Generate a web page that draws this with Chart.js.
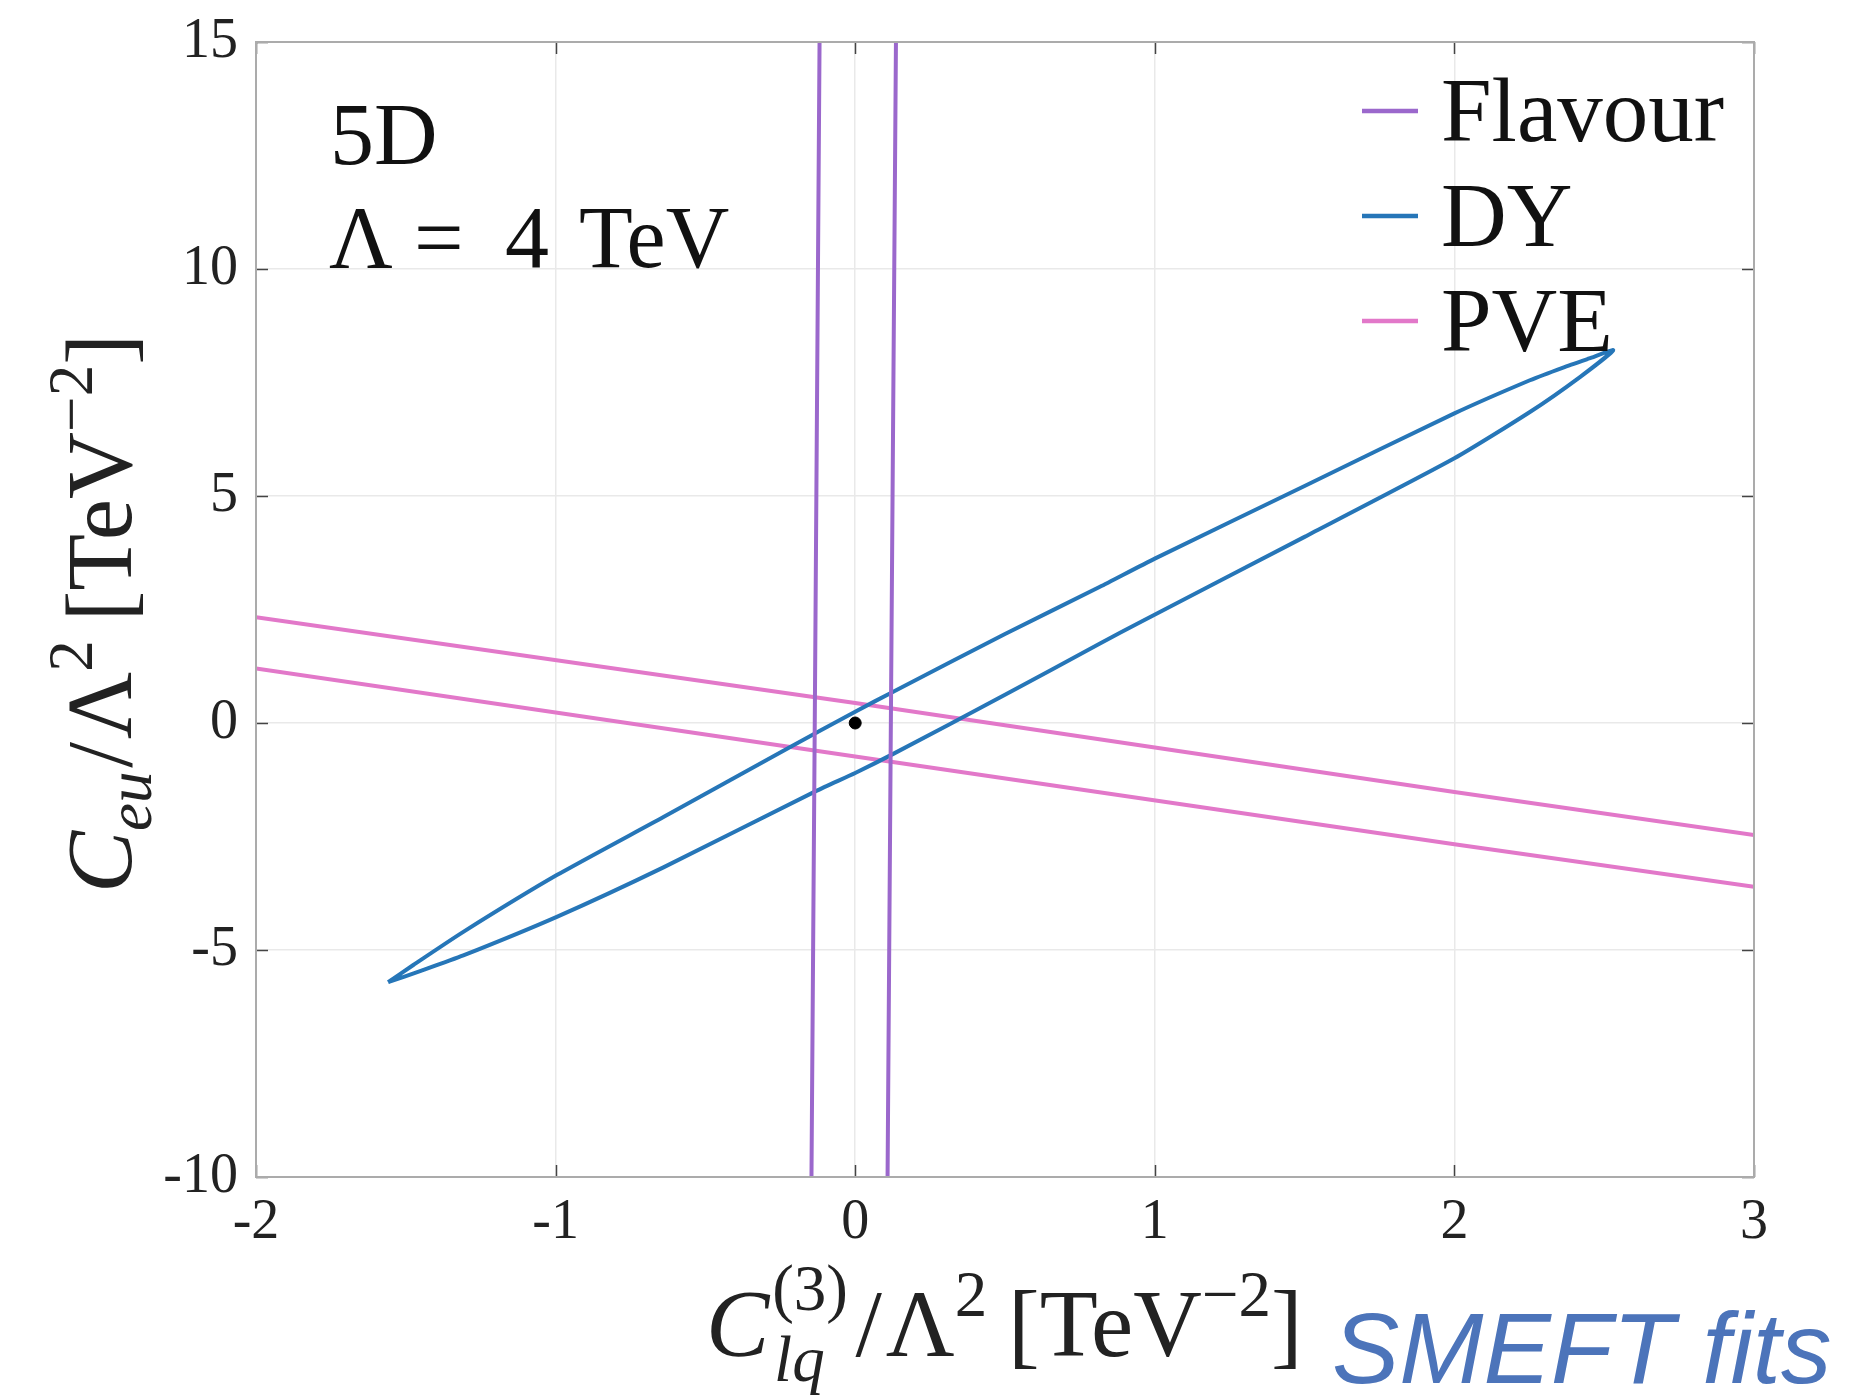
<!DOCTYPE html>
<html>
<head>
<meta charset="utf-8">
<script src="https://cdn.jsdelivr.net/npm/chart.js@4.4.1/dist/chart.umd.min.js"></script>
<style>
  html, body { margin: 0; padding: 0; background: #ffffff; }
  #wrap { position: relative; width: 1868px; height: 1398px; }
</style>
</head>
<body>
<div id="wrap"><canvas id="c"></canvas></div>
<script>
// ---------------- data ----------------
const xTicks = [-2, -1, 0, 1, 2, 3];
const xTickLabels = ['-2', '-1', '0', '1', '2', '3'];
const yTicks = [-10, -5, 0, 5, 10, 15];
const yTickLabels = ['-10', '-5', '0', '5', '10', '15'];

const seriesNames = ['Flavour', 'DY', 'PVE'];
const seriesColors = ['#9B68CC', '#2676B8', '#E278C9'];

// Flavour: two nearly vertical boundary lines
const flavourLeftX  = [-0.119, -0.135, -0.146];
const flavourLeftY  = [15, 0, -10];
const flavourRightX = [0.136, 0.119, 0.108];
const flavourRightY = [15, 0, -10];

// DY: closed elongated contour (upper branch, then lower branch back)
const dyX = [-1.559, -1.475, -1.308, -0.996, -0.640, -0.229, 0.0, 0.127, 0.5, 0.817, 1.0, 1.5, 2.0, 2.252, 2.363, 2.45, 2.530,
             2.419, 2.252, 2.0, 1.5, 0.951, 0.817, 0.5, 0.127, 0.0, -0.128, -0.640, -0.996, -1.308, -1.45, -1.559];
const dyY = [-5.71, -5.33, -4.60, -3.35, -2.07, -0.57, 0.25, 0.69, 1.96, 3.00, 3.62, 5.22, 6.82, 7.55, 7.83, 8.03, 8.21,
             7.62, 6.85, 5.83, 4.10, 2.22, 1.75, 0.62, -0.68, -1.10, -1.49, -3.18, -4.27, -5.12, -5.46, -5.71];

// PVE: two straight boundary lines
const pveUpperX = [-2, 0, 2, 3];
const pveUpperY = [2.33, 0.44, -1.52, -2.47];
const pveLowerX = [-2, 0, 2, 3];
const pveLowerY = [1.20, -0.74, -2.67, -3.61];

// best-fit point
const dotX = [0];
const dotY = [0];

// ---------------- helpers ----------------
const zip = (xs, ys) => xs.map((x, i) => ({ x: x, y: ys[i] }));
const SERIF = '"Liberation Serif", "DejaVu Serif", serif';

function lineSet(label, xs, ys, color, legend, tension) {
  return {
    label: label,
    data: zip(xs, ys),
    showLine: true,
    borderColor: color,
    backgroundColor: color,
    borderWidth: 4,
    pointRadius: 0,
    pointHoverRadius: 0,
    tension: tension || 0,
    fill: false,
    inLegend: legend
  };
}

const datasets = [
  lineSet(seriesNames[0], flavourLeftX, flavourLeftY, seriesColors[0], true),
  lineSet(seriesNames[0], flavourRightX, flavourRightY, seriesColors[0], false),
  lineSet(seriesNames[1], dyX, dyY, seriesColors[1], true, 0.2),
  lineSet(seriesNames[2], pveUpperX, pveUpperY, seriesColors[2], true),
  lineSet(seriesNames[2], pveLowerX, pveLowerY, seriesColors[2], false),
  {
    label: 'best fit',
    data: zip(dotX, dotY),
    showLine: false,
    pointRadius: 6,
    pointBackgroundColor: '#000000',
    pointBorderColor: '#000000',
    inLegend: false
  }
];

// rich text drawing (sub/superscripts)
function segFont(seg, F) {
  const size = Math.round(F * (seg.s || 1));
  return (seg.it ? 'italic ' : '') + size + 'px ' + SERIF;
}
function segWidth(ctx, seg, F) {
  if (seg.stack) return Math.max.apply(null, seg.stack.map(s => segWidth(ctx, s, F))) + (seg.gap || 0) * F;
  ctx.font = segFont(seg, F);
  return ctx.measureText(seg.t).width + (seg.gap || 0) * F;
}
function drawRich(ctx, segs, x, y, F) {
  let cx = x;
  segs.forEach(seg => {
    const parts = seg.stack ? seg.stack : [seg];
    parts.forEach(s => {
      ctx.font = segFont(s, F);
      ctx.fillText(s.t, cx + (s.dx || 0) * F, y + (s.dy || 0) * F);
    });
    cx += segWidth(ctx, seg, F);
  });
  return cx - x;
}

const yTitleSegs = [
  { t: 'C', it: true },
  { t: 'eu', it: true, s: 0.68, dy: 0.22, gap: 0.04 },
  { t: '/', gap: 0.03 },
  { t: 'Λ' },
  { t: '2', s: 0.68, dy: -0.42, gap: 0.2 },
  { t: '[' },
  { t: 'TeV' },
  { t: '−2', s: 0.68, dy: -0.42 },
  { t: ']' }
];
const xTitleSegs = [
  { t: 'C', it: true, gap: 0.03 },
  { stack: [ { t: '(3)', s: 0.68, dy: -0.48 }, { t: 'lq', it: true, s: 0.68, dy: 0.26, dx: 0.02 } ], gap: 0.08 },
  { t: '/', gap: 0.04 },
  { t: 'Λ' },
  { t: '2', s: 0.68, dy: -0.42, gap: 0.22 },
  { t: '[' },
  { t: 'TeV' },
  { t: '−2', s: 0.68, dy: -0.42 },
  { t: ']' }
];

const decorPlugin = {
  id: 'decor',
  afterDatasetsDraw(chart) {
    const ctx = chart.ctx;
    const a = chart.chartArea;
    const xs = chart.scales.x, ys = chart.scales.y;
    ctx.save();
    // inward tick marks
    ctx.strokeStyle = '#444444';
    ctx.lineWidth = 1.5;
    const L = 12;
    xTicks.forEach(v => {
      const px = Math.round(xs.getPixelForValue(v)) + 0.5;
      ctx.beginPath();
      ctx.moveTo(px, a.bottom); ctx.lineTo(px, a.bottom - L);
      ctx.moveTo(px, a.top); ctx.lineTo(px, a.top + L);
      ctx.stroke();
    });
    yTicks.forEach(v => {
      const py = Math.round(ys.getPixelForValue(v)) + 0.5;
      ctx.beginPath();
      ctx.moveTo(a.left, py); ctx.lineTo(a.left + L, py);
      ctx.moveTo(a.right, py); ctx.lineTo(a.right - L, py);
      ctx.stroke();
    });
    // box
    ctx.strokeStyle = '#ababab';
    ctx.lineWidth = 2;
    ctx.strokeRect(a.left, a.top, a.right - a.left, a.bottom - a.top);
    ctx.restore();
  },
  afterDraw(chart) {
    const ctx = chart.ctx;
    ctx.save();
    ctx.fillStyle = '#111111';
    ctx.textBaseline = 'alphabetic';
    ctx.textAlign = 'left';

    // annotation
    ctx.font = '88px ' + SERIF;
    ctx.fillText('5D', 330, 164);
    ctx.fillText('Λ', 329, 267);
    ctx.fillText('=', 414, 267);
    ctx.fillText('4', 505, 267);
    ctx.fillText('TeV', 579, 267);

    // legend
    const lgX = 1362, lgLen = 56, rowY = [111, 216, 321];
    chart.data.datasets.filter(d => d.inLegend).forEach((d, i) => {
      ctx.strokeStyle = d.borderColor;
      ctx.lineWidth = 4.5;
      ctx.beginPath();
      ctx.moveTo(lgX, rowY[i]); ctx.lineTo(lgX + lgLen, rowY[i]);
      ctx.stroke();
      ctx.fillStyle = '#111111';
      ctx.font = '91px ' + SERIF;
      ctx.fillText(d.label, 1441, rowY[i] + 30);
    });

    // x-axis title
    ctx.fillStyle = '#222222';
    drawRich(ctx, xTitleSegs, 706, 1356, 95);

    // y-axis title (rotated, reads bottom to top, starts at page y 893)
    ctx.save();
    ctx.translate(131, 0);
    ctx.rotate(-Math.PI / 2);
    drawRich(ctx, yTitleSegs, -893, 0, 93);
    ctx.restore();

    // SMEFT fits tag
    ctx.fillStyle = '#4C74BA';
    ctx.font = 'italic 101px "Liberation Sans", Arial, sans-serif';
    ctx.fillText('SMEFT fits', 1332, 1383);
    ctx.restore();
  }
};

new Chart(document.getElementById('c'), {
  type: 'scatter',
  data: { datasets: datasets },
  plugins: [decorPlugin],
  options: {
    responsive: true,
    maintainAspectRatio: false,
    animation: false,
    events: [],
    layout: { padding: { left: 0, right: 114, top: 42, bottom: 0 } },
    plugins: {
      legend: { display: false },
      tooltip: { enabled: false },
      title: { display: false }
    },
    scales: {
      x: {
        type: 'linear',
        min: -2, max: 3,
        afterBuildTicks: s => { s.ticks = xTicks.map(v => ({ value: v })); },
        afterFit: s => { s.height = 221; s.paddingLeft = 0; s.paddingRight = 0; },
        ticks: {
          callback: v => { const i = xTicks.indexOf(v); return i >= 0 ? xTickLabels[i] : ''; },
          font: { family: SERIF, size: 56, lineHeight: 1.0 },
          color: '#222222',
          padding: 18,
          maxRotation: 0
        },
        grid: { color: '#e9e9e9', lineWidth: 1.5, drawTicks: false },
        border: { display: false },
        title: { display: false }
      },
      y: {
        type: 'linear',
        min: -10, max: 15,
        afterBuildTicks: s => { s.ticks = yTicks.map(v => ({ value: v })); },
        afterFit: s => { s.width = 256; s.paddingTop = 0; s.paddingBottom = 0; },
        ticks: {
          callback: v => { const i = yTicks.indexOf(v); return i >= 0 ? yTickLabels[i] : ''; },
          font: { family: SERIF, size: 56, lineHeight: 1.0 },
          color: '#222222',
          padding: 18
        },
        grid: { color: '#e9e9e9', lineWidth: 1.5, drawTicks: false },
        border: { display: false },
        title: { display: false }
      }
    }
  }
});
</script>
</body>
</html>
